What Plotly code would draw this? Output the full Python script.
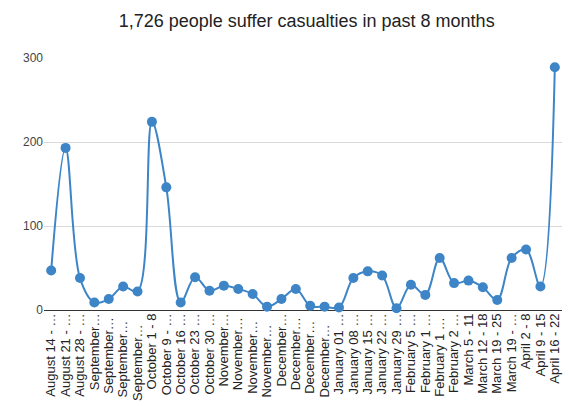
import plotly.graph_objects as go

weeks = [
    "August 14 - …", "August 21 - …", "August 28 - …",
    "September…", "September… ", "September…  ", "September…   ",
    "October 1 - 8", "October 9 - …", "October 16 …", "October 23 …", "October 30 …",
    "November…", "November… ", "November…  ", "November…   ",
    "December…", "December… ", "December…  ", "December…   ",
    "January 01 …", "January 08 …", "January 15 …", "January 22 …", "January 29 …",
    "February 5 …", "February 1 …", "February 1 … ", "February 2 …",
    "March 5 - 11", "March 12 - 18", "March 19 - 25", "March 19 - …",
    "April 2 - 8", "April 9 - 15", "April 16 - 22",
]
casualties = [
    47, 193, 38, 9, 13, 28, 22,
    224, 146, 9, 39, 23,
    29, 25, 19, 4,
    13, 25, 5, 4,
    3, 38, 46, 41, 2,
    30, 18, 62, 32,
    35, 27, 12, 62,
    72, 28, 289,
]
y_ticks = [0, 100, 200, 300]

blue = "#3d85c6"

fig = go.Figure()
fig.add_trace(go.Scatter(
    x=list(range(len(weeks))), y=casualties,
    mode="lines+markers",
    line=dict(color=blue, width=2, shape="spline", smoothing=1),
    marker=dict(color=blue, size=10),
    cliponaxis=False,
    showlegend=False,
))

fig.update_layout(
    width=569, height=406,
    margin=dict(l=44, r=7, t=58, b=96, autoexpand=False),
    paper_bgcolor="white", plot_bgcolor="white",
    font=dict(family="Liberation Sans, Arial, sans-serif"),
    title=dict(
        text="1,726 people suffer casualties in past 8 months",
        x=0.539, xanchor="center", y=0.95, yanchor="middle",
        font=dict(size=18, color="#222222"),
    ),
    xaxis=dict(
        tickmode="array", tickvals=list(range(len(weeks))), ticktext=weeks,
        tickangle=-90, range=[-0.5, len(weeks) - 0.5],
        showgrid=False, zeroline=False, showline=False, automargin=False,
        tickfont=dict(size=13, color="#222222"), ticks="",
    ),
    yaxis=dict(
        range=[0, 300], tickvals=y_ticks, automargin=False,
        showgrid=True, gridcolor="#d9d9d9", gridwidth=1,
        zeroline=True, zerolinecolor="#333333", zerolinewidth=1,
        tickfont=dict(size=12, color="#444444"),
        ticks="", showline=False,
    ),
)

fig.write_html(
    "out.html",
    config={"displayModeBar": False},
    post_script="document.body.style.margin='0';document.body.style.padding='0';document.body.style.overflow='hidden';",
)
